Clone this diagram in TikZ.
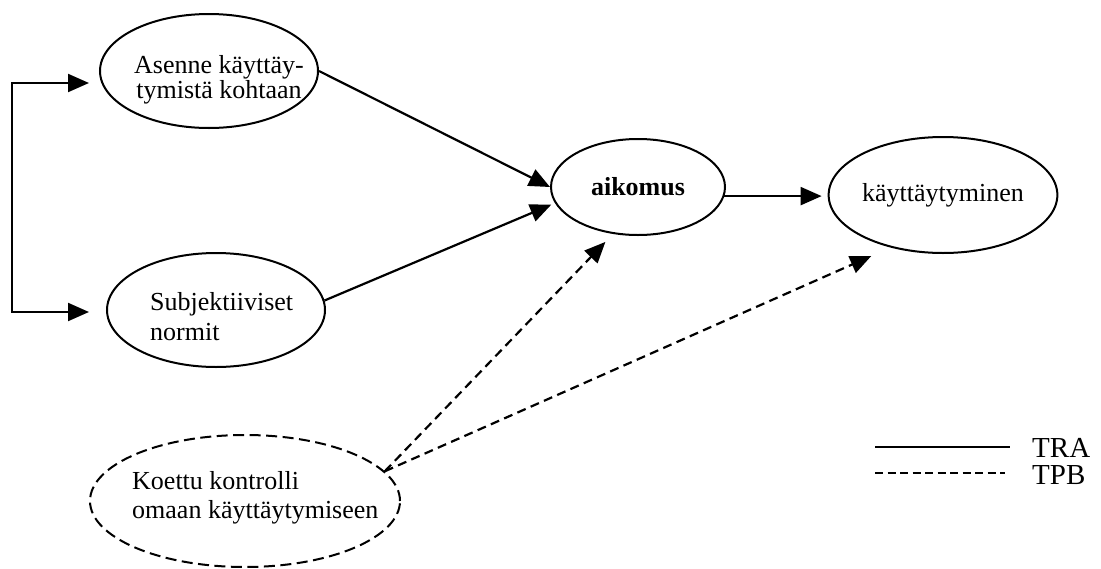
\documentclass[tikz,border=0pt]{standalone}
\usepackage{fontspec}
\setmainfont{Liberation Serif}
\usetikzlibrary{arrows.meta,shapes.geometric}
\begin{document}
\begin{tikzpicture}[x=1pt,y=-1pt,
  oval/.style={ellipse, draw, line width=2pt, inner sep=0pt},
  lbl/.style={font=\fontsize{26}{29}\selectfont, inner sep=0pt},
  arr/.style={line width=2.2pt, -{Triangle[length=21pt,width=18pt]}},
  darr/.style={arr, dash pattern=on 9pt off 5.5pt},
  leg/.style={font=\fontsize{29}{29}\selectfont, anchor=base west, inner sep=0pt}
]
\useasboundingbox (0,0) rectangle (1101,568);
% nodes
\node[oval, minimum width=218pt, minimum height=114pt] (e1) at (209,71) {};
\node[lbl, font=\fontsize{26}{25}\selectfont, align=center] (t1) at (219,80) {Asenne käyttäy-\\tymistä kohtaan};
\node[oval, minimum width=218pt, minimum height=114pt] (e2) at (216,310) {};
\node[lbl, font=\fontsize{26}{30}\selectfont, align=left, anchor=west] (t2) at (150,317) {Subjektiiviset\\normit};
\node[oval, lbl, font=\fontsize{26}{29}\selectfont\bfseries, minimum width=174pt, minimum height=96pt] (aik) at (638,187) {aikomus};
\node[oval, lbl, minimum width=214pt, minimum height=116pt] (kay) at (943,195) {käyttäytyminen};
\node[oval, dash pattern=on 11pt off 5.5pt, minimum width=310pt, minimum height=132pt] (ctl) at (245,501) {};
\node[lbl, align=left, anchor=west] (t3) at (132,497.5) {Koettu kontrolli\\omaan käyttäytymiseen};
% bracket
\coordinate (b1) at (12,83);
\coordinate (b2) at (12,312);
\draw[arr, shorten >=10pt] (b2) -- (b1) -- (b1 -| e1.west);
\draw[arr, shorten >=17pt, line cap=rect] (b2) -- (b2 -| e2.west);
% connectors
\draw[arr] (e1.east) -- (aik.west);
\draw[arr, shorten >=4pt] (e2.5) -- (aik.191);
\draw[arr, shorten >=6pt] (aik.-6) -- (aik.-6 -| kay.west);
\draw[darr, shorten >=11pt] (ctl.12) -- (aik.242);
\draw[darr, shorten >=21pt] (ctl.12) -- (kay.225);
% legend
\coordinate (l1a) at (875,447);
\coordinate (l2a) at (875,473);
\node[leg] (tra) at (1032,457) {TRA};
\node[leg] (tpb) at (1032,484) {TPB};
\draw[line width=2pt] (l1a) -- (l1a -| 1010,0);
\draw[line width=1.5pt, dash pattern=on 8pt off 4.5pt] (l2a) -- (l2a -| 1005,0);
\end{tikzpicture}
\end{document}
